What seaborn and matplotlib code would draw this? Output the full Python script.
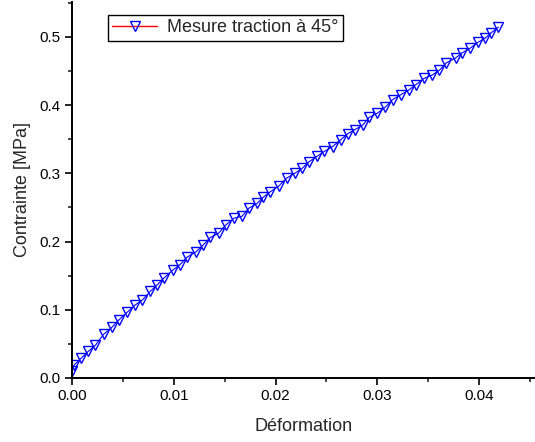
import pandas as pd
import matplotlib
matplotlib.use("Agg")
import matplotlib.pyplot as plt
import seaborn as sns
from matplotlib.lines import Line2D
from matplotlib.ticker import MultipleLocator

# strain / stress readings (Mesure traction à 45°)
deformation = [
    0.0000, 0.0002, 0.0009, 0.0016, 0.0023, 0.0031, 0.0039, 0.0046, 0.0054, 0.0062,
    0.0069, 0.0077, 0.0084, 0.0090, 0.0099, 0.0106, 0.0113, 0.0122, 0.0129, 0.0136,
    0.0144, 0.0151, 0.0159, 0.0167, 0.0174, 0.0182, 0.0188, 0.0195, 0.0203, 0.0211,
    0.0219, 0.0226, 0.0233, 0.0241, 0.0248, 0.0256, 0.0264, 0.0271, 0.0278, 0.0286,
    0.0292, 0.0300, 0.0308, 0.0315, 0.0323, 0.0331, 0.0338, 0.0346, 0.0354, 0.0361,
    0.0368, 0.0377, 0.0383, 0.0391, 0.0399, 0.0406, 0.0412, 0.0419,
]
contrainte = [
    0.010, 0.019, 0.029, 0.039, 0.048, 0.064, 0.074, 0.085, 0.096, 0.107,
    0.114, 0.127, 0.137, 0.146, 0.158, 0.166, 0.177, 0.185, 0.195, 0.206,
    0.212, 0.224, 0.234, 0.237, 0.249, 0.256, 0.265, 0.273, 0.281, 0.293,
    0.300, 0.307, 0.317, 0.325, 0.332, 0.339, 0.349, 0.358, 0.364, 0.371,
    0.382, 0.388, 0.397, 0.408, 0.415, 0.422, 0.430, 0.439, 0.444, 0.451,
    0.462, 0.469, 0.476, 0.483, 0.492, 0.498, 0.506, 0.514,
]
legend_label = "Mesure traction à 45°"

df = pd.DataFrame({"Déformation": deformation, "Contrainte": contrainte})

sns.set_style("ticks")
plt.rcParams["font.family"] = ["Liberation Sans", "DejaVu Sans"]

fig = plt.figure(figsize=(5.35, 4.42), dpi=100)
ax = fig.add_axes([0.1346, 0.1448, 0.8654, 0.8507])

sns.lineplot(data=df, x="Déformation", y="Contrainte", ax=ax, color="blue",
             linewidth=0.8, marker="v", markersize=7.5, markerfacecolor="none",
             markeredgecolor="blue", markeredgewidth=1.0, sort=False)

ax.set_xlim(0, 0.0455)
ax.set_ylim(0, 0.551)
ax.xaxis.set_major_locator(MultipleLocator(0.01))
ax.xaxis.set_minor_locator(MultipleLocator(0.005))
ax.yaxis.set_major_locator(MultipleLocator(0.1))
ax.yaxis.set_minor_locator(MultipleLocator(0.05))
ax.xaxis.set_major_formatter(matplotlib.ticker.FormatStrFormatter("%.2f"))
ax.yaxis.set_major_formatter(matplotlib.ticker.FormatStrFormatter("%.1f"))

ax.tick_params(which="major", direction="out", length=5, width=1.2, labelsize=11,
               colors="black", pad=3)
ax.tick_params(which="minor", direction="out", length=3, width=1.2)
for s in ["top", "right"]:
    ax.spines[s].set_visible(False)
for s in ["left", "bottom"]:
    ax.spines[s].set_linewidth(1.4)
    ax.spines[s].set_color("black")

ax.set_xlabel("Déformation", fontsize=13, labelpad=11)
ax.set_ylabel("Contrainte [MPa]", fontsize=13, labelpad=6)

handle = Line2D([], [], color="red", linewidth=1.0, marker="v", markersize=7.5,
                markerfacecolor="none", markeredgecolor="blue", markeredgewidth=1.0)
leg = ax.legend([handle], [legend_label], loc="upper left",
                bbox_to_anchor=(0.077, 0.966), frameon=True, fancybox=False,
                edgecolor="black", fontsize=13, handlelength=2.5,
                borderpad=0.25, handletextpad=0.55, borderaxespad=0)
leg.get_frame().set_linewidth(1.0)
leg.get_frame().set_alpha(1)

fig.savefig("out.png", dpi=100)
